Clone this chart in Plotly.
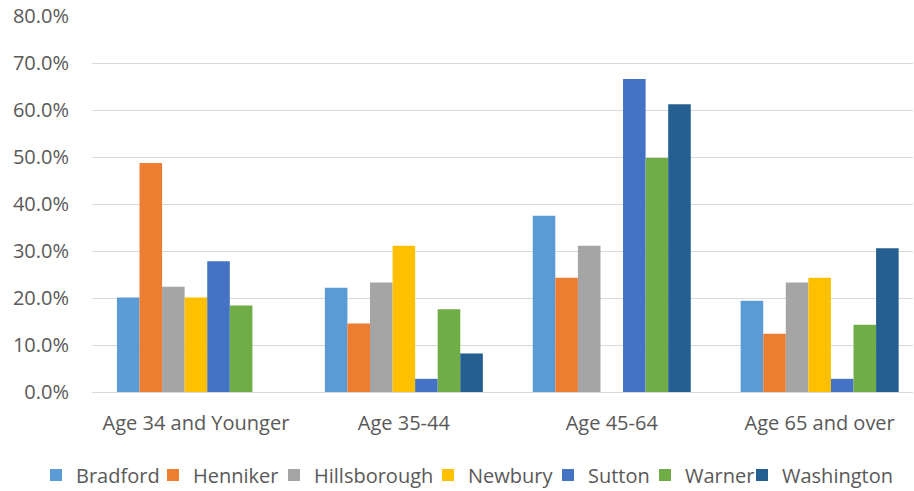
import plotly.graph_objects as go

categories = ["Age 34 and Younger", "Age 35-44", "Age 45-64", "Age 65 and over"]
series_names = ["Bradford", "Henniker", "Hillsborough", "Newbury", "Sutton", "Warner", "Washington"]
bradford = [20.1, 22.2, 37.5, 19.4]
henniker = [48.7, 14.6, 24.3, 12.4]
hillsborough = [22.4, 23.3, 31.1, 23.3]
newbury = [20.1, 31.1, 0.0, 24.3]
sutton = [27.8, 2.8, 66.6, 2.8]
warner = [18.4, 17.6, 49.8, 14.3]
washington = [0.0, 8.2, 61.2, 30.6]
colors = ["#5B9BD5", "#ED7D31", "#A5A5A5", "#FFC000", "#4472C4", "#70AD47", "#255E91"]
y_ticks = [0, 10, 20, 30, 40, 50, 60, 70, 80]
y_tick_labels = ["0.0%", "10.0%", "20.0%", "30.0%", "40.0%", "50.0%", "60.0%", "70.0%", "80.0%"]

# legend entry text start positions (px from left) to mimic the single-row legend
legend_text_x = [76, 193, 314, 468, 588, 685, 782]

all_series = [bradford, henniker, hillsborough, newbury, sutton, warner, washington]

font_family = "Open Sans"
text_color = "#595959"
W, H = 914, 491

fig = go.Figure()
legend_layouts = {}
for i, (name, vals, col) in enumerate(zip(series_names, all_series, colors)):
    lname = "legend" if i == 0 else f"legend{i+1}"
    fig.add_trace(go.Bar(x=categories, y=vals, name=name, marker_color=col,
                         marker_line_width=0, legend=lname))
    legend_layouts[lname] = dict(
        orientation="h", xref="container", yref="container",
        x=(legend_text_x[i] - 40) / W, xanchor="left",
        y=1 - 475 / H, yanchor="middle",
        font=dict(size=20, color=text_color, family=font_family),
        bgcolor="rgba(0,0,0,0)", borderwidth=0,
    )

fig.update_layout(
    width=W, height=H,
    margin=dict(l=92, r=1, t=16, b=99),
    paper_bgcolor="white", plot_bgcolor="white",
    barmode="group", bargap=0.24, bargroupgap=0,
    font=dict(family=font_family, size=20, color=text_color),
    showlegend=True,
    xaxis=dict(range=[-0.5, 3.449], showgrid=False, showline=False, zeroline=False,
               ticks="outside", ticklen=13, tickcolor="rgba(0,0,0,0)",
               tickfont=dict(size=20, color=text_color)),
    yaxis=dict(range=[0, 80], tickvals=y_ticks, ticktext=y_tick_labels,
               showgrid=True, gridcolor="#D9D9D9", gridwidth=1,
               zeroline=True, zerolinecolor="#D9D9D9", zerolinewidth=1,
               showline=False, ticks="outside", ticklen=18,
               tickcolor="rgba(0,0,0,0)",
               tickfont=dict(size=20, color=text_color)),
    **legend_layouts,
)

fig.write_html("out.html")
